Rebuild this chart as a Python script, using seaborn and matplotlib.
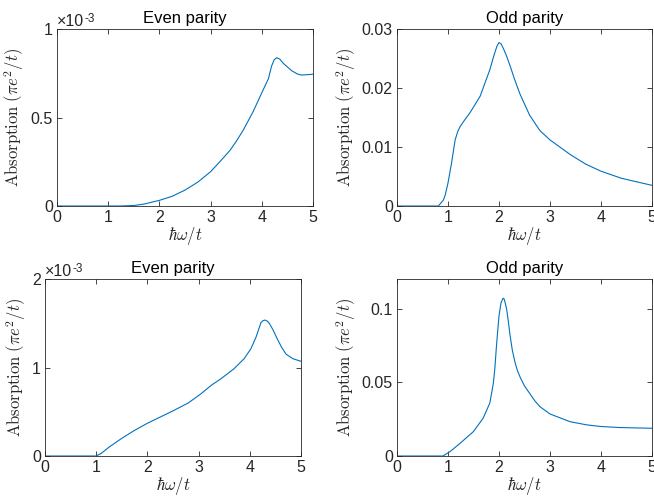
import matplotlib
matplotlib.use("Agg")
import matplotlib.pyplot as plt
import seaborn as sns
import numpy as np
import pandas as pd
from matplotlib.ticker import FuncFormatter

# even parity, upper panel (units of 1e-3)
even1_x = [0, 0.5, 1.0, 1.23, 1.5, 1.7, 2.0, 2.25, 2.5, 2.75, 3.0, 3.18, 3.38, 3.5, 3.64, 3.83,
           4.0, 4.13, 4.19, 4.24, 4.29, 4.35, 4.42, 4.58, 4.7, 4.78, 4.94, 5.0]
even1_y = [0, 0, 0, 0, 0.003, 0.011, 0.032, 0.055, 0.09, 0.135, 0.194, 0.25, 0.315, 0.365, 0.43,
           0.533, 0.64, 0.72, 0.79, 0.825, 0.838, 0.83, 0.806, 0.765, 0.745, 0.74, 0.743, 0.745]

# odd parity, upper panel
odd1_x = [0, 0.5, 0.81, 0.91, 0.95, 1.0, 1.07, 1.14, 1.19, 1.24, 1.32, 1.43, 1.63, 1.82,
          1.9, 1.96, 2.0, 2.04, 2.08, 2.14, 2.22, 2.3, 2.41, 2.6, 2.8, 3.0, 3.4, 3.7,
          4.0, 4.4, 5.0]
odd1_y = [0, 0, 0, 0.001, 0.002, 0.0039, 0.0073, 0.0112, 0.0126, 0.0135, 0.0145, 0.0158,
          0.0186, 0.0231, 0.0255, 0.0271, 0.0277, 0.0275, 0.0268, 0.0256, 0.0237, 0.0216,
          0.0190, 0.0154, 0.0128, 0.0112, 0.0087, 0.0071, 0.0059, 0.0047, 0.0035]

# even parity, lower panel (units of 1e-3)
even2_x = [0, 0.5, 1.0, 1.1, 1.25, 1.5, 1.75, 2.0, 2.25, 2.5, 2.8, 3.04, 3.25, 3.43, 3.69,
           3.89, 4.02, 4.12, 4.22, 4.26, 4.30, 4.34, 4.38, 4.45, 4.54, 4.62, 4.71, 4.84, 5.0]
even2_y = [0, 0, 0, 0.03, 0.10, 0.2, 0.29, 0.37, 0.44, 0.51, 0.60, 0.70, 0.80, 0.87, 0.985,
           1.10, 1.21, 1.34, 1.51, 1.53, 1.536, 1.525, 1.50, 1.43, 1.32, 1.23, 1.15, 1.10, 1.07]

# odd parity, lower panel
odd2_x = [0, 0.5, 0.9, 1.04, 1.24, 1.5, 1.69, 1.82, 1.89, 1.92, 1.95, 1.98, 2.0, 2.04,
          2.08, 2.1, 2.12, 2.15, 2.18, 2.22, 2.26, 2.31, 2.36, 2.42, 2.5, 2.61, 2.7, 2.8,
          3.0, 3.39, 3.72, 4.0, 4.37, 5.0]
odd2_y = [0, 0, 0, 0.003, 0.0087, 0.0166, 0.0257, 0.0359, 0.0495, 0.06, 0.0745, 0.087,
          0.095, 0.104, 0.107, 0.1065, 0.104, 0.0995, 0.092, 0.081, 0.072, 0.064, 0.058,
          0.053, 0.0475, 0.042, 0.0375, 0.0335, 0.0285, 0.0233, 0.0211, 0.0200, 0.0193, 0.0188]

sns.set_theme(style="ticks")
plt.rcParams['font.family'] = ['Liberation Sans', 'DejaVu Sans']
plt.rcParams['mathtext.fontset'] = 'cm'

LINE = '#0072BD'
INK = '#262626'
fig = plt.figure(figsize=(6.54, 5.01), dpi=100)

panels = [
    ([0.0872, 0.5888, 0.3914, 0.3533], even1_x, even1_y, 'Even parity', (0, 1), [0, 0.5, 1], True),
    ([0.607, 0.5888, 0.390, 0.3533], odd1_x, odd1_y, 'Odd parity', (0, 0.03), [0, 0.01, 0.02, 0.03], False),
    ([0.0688, 0.0898, 0.3914, 0.3533], even2_x, even2_y, 'Even parity', (0, 2), [0, 1, 2], True),
    ([0.607, 0.0898, 0.390, 0.3533], odd2_x, odd2_y, 'Odd parity', (0, 0.12), [0, 0.05, 0.1], False),
]

fmt = FuncFormatter(lambda v, p: '%g' % round(v, 6))

for rect, xs, ys, title, ylim, yticks, scaled in panels:
    ax = fig.add_axes(rect)
    df = pd.DataFrame({'w': xs, 'a': ys})
    sns.lineplot(data=df, x='w', y='a', ax=ax, color=LINE, linewidth=0.8, sort=True)
    ax.set_xlim(0, 5)
    ax.set_ylim(*ylim)
    ax.set_xticks([0, 1, 2, 3, 4, 5])
    ax.set_yticks(yticks)
    ax.xaxis.set_major_formatter(fmt)
    ax.yaxis.set_major_formatter(fmt)
    ax.tick_params(which='both', direction='in', top=True, right=True, length=3.5,
                   width=0.6, labelsize=11.5, colors=INK, pad=3)
    for s in ax.spines.values():
        s.set_linewidth(0.6)
        s.set_color(INK)
    ax.set_title(title, fontsize=12, pad=4, color='black')
    ax.set_xlabel(r'$\hbar\omega/t$', fontsize=12, labelpad=0)
    ax.set_ylabel(r'$\mathrm{Absorption}\ (\pi e^2/t)$', fontsize=12, labelpad=3)
    if scaled:
        ax.text(0.0, 1.017, '×10', transform=ax.transAxes, ha='left', va='baseline',
                fontsize=11.5, color=INK)
        ax.text(0.106, 1.04, '-3', transform=ax.transAxes, ha='left', va='baseline',
                fontsize=8.5, color=INK)

fig.savefig('out.png', dpi=100)
